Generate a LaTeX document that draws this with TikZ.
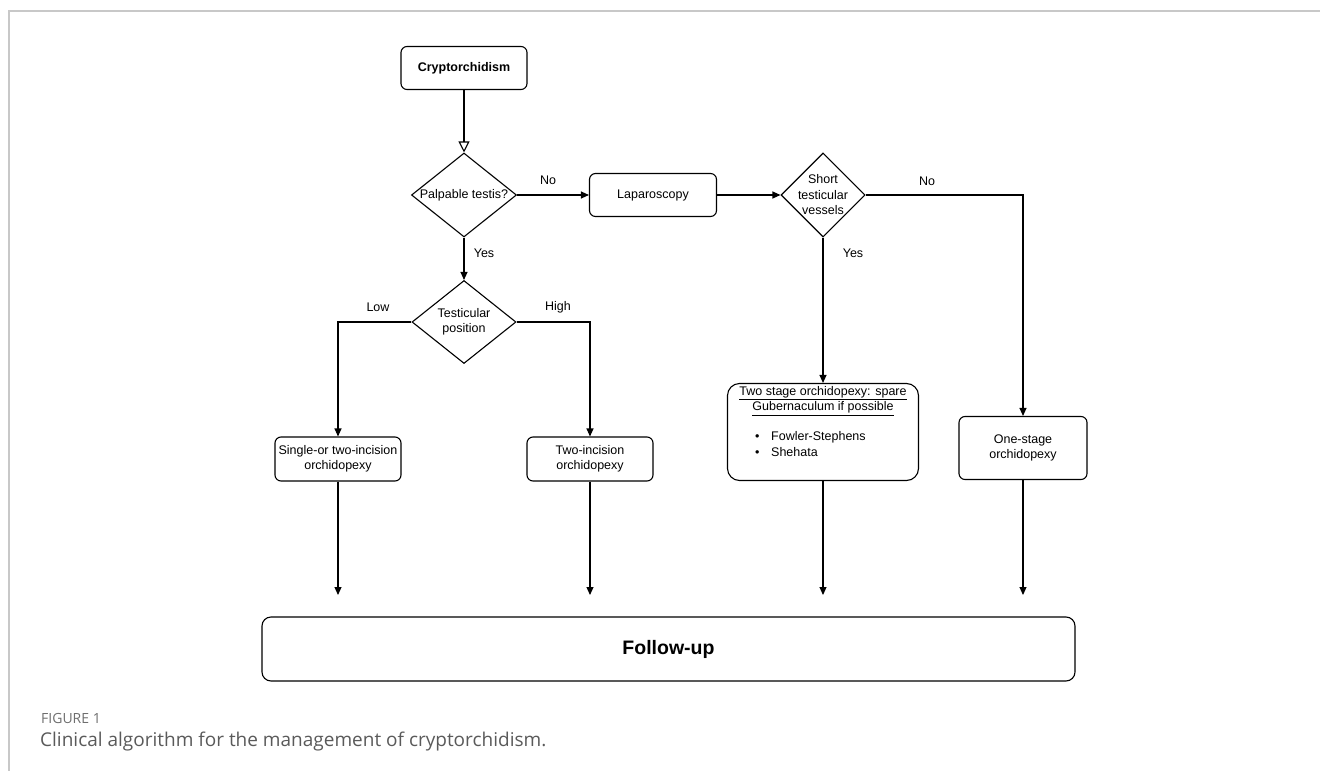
\documentclass[tikz,border=0pt]{standalone}
\usepackage{fontspec}
\setmainfont{Liberation Sans}
\newfontfamily\capfont{Open Sans}
\usetikzlibrary{shapes.geometric,arrows.meta}
\definecolor{framegray}{HTML}{C8C8C8}
\definecolor{capgray}{HTML}{5A5A5A}
\definecolor{figgray}{HTML}{6E6E6E}
\tikzset{
  box/.style={draw, rounded corners=6pt, line width=1.1pt, align=center, inner sep=1pt,
    font=\fontsize{12.5}{15.5}\selectfont},
  dia/.style={draw, diamond, inner sep=0pt, line width=1.1pt},
  diatext/.style={align=center, font=\fontsize{12.5}{15.5}\selectfont, inner sep=0pt},
  lbl/.style={font=\fontsize{12.5}{14}\selectfont, inner sep=0pt},
  conn/.style={line width=1.1pt},
  arr/.style={conn, -{Triangle[length=8pt,width=7pt]}},
  openarr/.style={conn, -{Triangle[open,length=11pt,width=11pt]}}
}
\begin{document}
\begin{tikzpicture}[x=1pt,y=-1pt]
\useasboundingbox (0,0) rectangle (1320,771);
% frame
\draw[framegray, line width=1.2pt] (9,771) -- (9,11) -- (1320,11);

% nodes
\node[box, minimum width=126pt, minimum height=43pt, font=\bfseries\fontsize{12.5}{14}\selectfont] (cry) at (464,68) {Cryptorchidism};
\node[dia, minimum width=105pt, minimum height=84pt] (pal) at (464,195) {};
\node[diatext] (palT) at (pal.center) {Palpable testis?};
\node[box, minimum width=127pt, minimum height=43pt] (lap) at (653,195) {Laparoscopy};
\node[dia, minimum width=84pt, minimum height=84pt] (sho) at (823,195) {};
\node[diatext] (shoT) at (sho.center) {Short\\testicular\\vessels};
\node[dia, minimum width=104pt, minimum height=83pt] (tes) at (464,322) {};
\node[diatext] (tesT) at (tes.center) {Testicular\\position};
\node[box, minimum width=126pt, minimum height=44pt] (sin) at (338,459) {Single-or two-incision\\orchidopexy};
\node[box, minimum width=126pt, minimum height=44pt] (tin) at (590,459) {Two-incision\\orchidopexy};
\node[box, rounded corners=12pt, minimum width=191pt, minimum height=97pt] (two) at (823,432) {};
\node[diatext] (twoH) at (823,401) {\underline{Two stage orchidopexy: spare}\\\underline{Gubernaculum if possible}};
\node[lbl, anchor=west] (twoB1) at (755,437) {\makebox[16pt][l]{•}Fowler-Stephens};
\node[lbl, anchor=west] (twoB2) at (755,452) {\makebox[16pt][l]{•}Shehata};
\node[box, minimum width=128pt, minimum height=63pt] (one) at (1023,448) {One-stage\\orchidopexy};
\node[box, rounded corners=9pt, minimum width=813pt, minimum height=64pt, font=\bfseries\fontsize{19.5}{22}\selectfont] (fol) at (668.5,649) {Follow-up};

% free ends
\coordinate (e1) at (338,595);
\coordinate (e2) at (590,595);
\coordinate (e3) at (823,595);
\coordinate (e4) at (1023,595);

% connectors
\draw[openarr] (cry.south) -- (pal.north);
\draw[arr] (pal.east) -- (lap.west);
\draw[arr] (lap.east) -- (sho.west);
\draw[arr] (sho.east) -| (one.north);
\draw[arr] (sho.south) -- (two.north);
\draw[arr] (pal.south) -- (tes.north);
\draw[arr] (tes.west) -| (sin.north);
\draw[arr] (tes.east) -| (tin.north);
\draw[arr] (sin.south) -- (e1);
\draw[arr] (tin.south) -- (e2);
\draw[arr] (two.south) -- (e3);
\draw[arr] (one.south) -- (e4);

% labels
\node[lbl] (lNo1) at (548,180) {No};
\node[lbl] (lNo2) at (927,181) {No};
\node[lbl] (lYes1) at (484,253) {Yes};
\node[lbl] (lYes2) at (853,253) {Yes};
\node[lbl] (lLow) at (378,307) {Low};
\node[lbl] (lHigh) at (558,307) {High};

% caption
\node[anchor=west, inner sep=0pt, text=figgray, font=\capfont\fontsize{14}{16}\selectfont] (fig) at (41,718) {FIGURE 1};
\node[anchor=west, inner sep=0pt, text=capgray, font=\capfont\fontsize{19}{21}\selectfont] (cap) at (40,742) {Clinical algorithm for the management of cryptorchidism.};
\end{tikzpicture}
\end{document}
